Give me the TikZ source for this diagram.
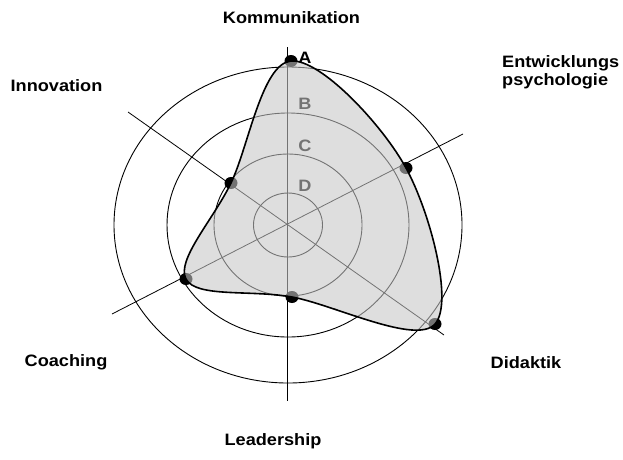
\documentclass[tikz,border=0pt]{standalone}
\usepackage{fontspec}
\setmainfont{Liberation Sans}
\usepackage{tikz}

\begin{document}
\begin{tikzpicture}[x=1pt, y=-1pt, every node/.style={font=\fontsize{16.5}{18}\selectfont\bfseries, inner sep=0pt, xscale=1.1}]
    \useasboundingbox (0,0) rectangle (623,459);

    % Rings
    \foreach \rx/\ry in {34.5/32, 74/71, 121/112, 174/158}
        \draw[line width=0.9pt] (288,225) ellipse [x radius=\rx, y radius=\ry];

    % Axes
    \coordinate (komEnd) at (287,47);
    \coordinate (leadEnd) at (287,401);
    \coordinate (innoEnd) at (128,112);
    \coordinate (didaEnd) at (444,335);
    \coordinate (coachEnd) at (112,314);
    \coordinate (entwEnd) at (463,134);
    \draw[line width=0.8pt] (komEnd) -- (leadEnd);
    \draw[line width=0.8pt] (innoEnd) -- (didaEnd);
    \draw[line width=0.8pt] (coachEnd) -- (entwEnd);

    % Levels
    \node[anchor=base] (lvlA) at (305,63) {A};
    \node[anchor=base] (lvlB) at (305,109) {B};
    \node[anchor=base] (lvlC) at (305,151) {C};
    \node[anchor=base] (lvlD) at (305,191) {D};

    % Values
    \coordinate (kom) at (291,61);
    \coordinate (entw) at (406,168);
    \coordinate (dida) at (435,324);
    \coordinate (lead) at (292,297);
    \coordinate (coach) at (186,279);
    \coordinate (inno) at (231,183);
    \foreach \p in {kom,entw,dida,lead,coach,inno}
        \fill (\p) ellipse [x radius=6.5, y radius=6];

    % Profile
    \filldraw[fill=black!22, fill opacity=0.58, line width=1.6pt]
        plot[smooth cycle, tension=0.6] coordinates {(kom) (entw) (dida) (lead) (coach) (inno)};

    % Categories
    \node[anchor=base] (komLabel) at (291.5,23) {Kommunikation};
    \node[anchor=base west, align=left] (entwLabel) at (502,85) {Entwicklungs\\psychologie};
    \node[anchor=base] (didaLabel) at (526,368) {Didaktik};
    \node[anchor=base] (leadLabel) at (273,445) {Leadership};
    \node[anchor=base] (coachLabel) at (66,366) {Coaching};
    \node[anchor=base] (innoLabel) at (56.5,91) {Innovation};
\end{tikzpicture}
\end{document}
